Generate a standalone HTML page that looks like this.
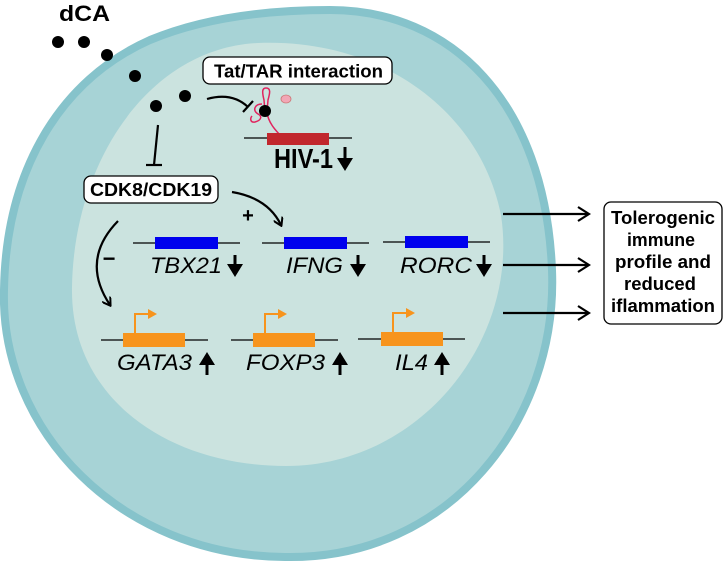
<!DOCTYPE html>
<html><head><meta charset="utf-8"><style>
html,body{margin:0;padding:0;background:#fff;}
svg{display:block;}
text{font-family:"Liberation Sans",sans-serif;}
</style></head><body>
<svg width="724" height="563" viewBox="0 0 724 563" xmlns="http://www.w3.org/2000/svg">
<defs>
<marker id="ah" markerWidth="10" markerHeight="10" refX="8" refY="5" orient="auto" markerUnits="userSpaceOnUse">
<path d="M1,0 L9,5 L1,10" fill="none" stroke="#000" stroke-width="2"/></marker>
<marker id="ah2" markerWidth="16" markerHeight="16" refX="13" refY="8" orient="auto" markerUnits="userSpaceOnUse">
<path d="M3,1 L14,8 L3,15" fill="none" stroke="#000" stroke-width="2.2"/></marker>
</defs>
<path d="M330,10 C450,10 545,100 552,270 C558,420 450,560 285,557 C120,556 0,430 4,290 C6,170 60,80 150,40 C210,15 280,10 330,10 Z" fill="#a7d3d6" stroke="#86c3cb" stroke-width="8"/>
<path d="M258,43 C380,38 480,110 501,215 C520,340 420,466 286,466 C170,466 70,400 72,287 C74,160 150,48 258,43 Z" fill="#cbe3df"/>
<text x="59" y="21" font-size="22" font-weight="bold" textLength="51" lengthAdjust="spacingAndGlyphs">dCA</text>
<g fill="#000">
<circle cx="58" cy="42" r="6"/><circle cx="84" cy="42" r="6"/><circle cx="107" cy="55" r="6"/>
<circle cx="135" cy="76" r="6"/><circle cx="156" cy="106" r="6"/><circle cx="185" cy="96" r="6"/>
</g>
<rect x="203" y="57" width="189" height="27" rx="7" fill="#fff" stroke="#000" stroke-width="1.3"/>
<text x="214" y="77.5" font-size="18" font-weight="bold" textLength="169" lengthAdjust="spacingAndGlyphs">Tat/TAR interaction</text>
<path d="M207,99 Q232,92 248,107" fill="none" stroke="#000" stroke-width="2.2"/>
<line x1="243" y1="112" x2="253" y2="101" stroke="#000" stroke-width="2.2"/>
<path d="M265,112 L264,100 C262,92 262,88 266,88 C271,88 270,93 268,100 L267,112 C268,122 275,130 282,137" fill="none" stroke="#e0245e" stroke-width="1.5"/>
<path d="M262,104 C255,104 252,110 258,114 C262,116 262,120 255,122 C250,123 250,118 252,116" fill="none" stroke="#e0245e" stroke-width="1.5"/>
<ellipse cx="286" cy="99" rx="5" ry="4" fill="#f2a7b6" stroke="#c77" stroke-width="0.8"/>
<circle cx="265" cy="111" r="6" fill="#000"/>
<line x1="244" y1="138" x2="352" y2="138" stroke="#000" stroke-width="1.3"/>
<rect x="267" y="133" width="62" height="12" fill="#c1272d"/>
<text x="274" y="168" font-size="28" font-weight="bold" textLength="59" lengthAdjust="spacingAndGlyphs">HIV-1</text>
<path d="M345,147 L345,162" stroke="#000" stroke-width="3"/><path d="M337,158 L353,158 L345,171 Z" fill="#000"/>
<path d="M158,125 L154,165" fill="none" stroke="#000" stroke-width="2.2"/>
<line x1="146" y1="165" x2="162" y2="165" stroke="#000" stroke-width="2.2"/>
<rect x="84" y="176" width="134" height="27" rx="7" fill="#fff" stroke="#000" stroke-width="1.3"/>
<text x="90" y="196" font-size="18" font-weight="bold" textLength="122" lengthAdjust="spacingAndGlyphs">CDK8/CDK19</text>
<path d="M232,192 Q268,198 281,225" fill="none" stroke="#000" stroke-width="2.2" marker-end="url(#ah)"/>
<text x="248" y="222" font-size="20" font-weight="bold" text-anchor="middle">+</text>
<path d="M118,221 Q80,260 110,305" fill="none" stroke="#000" stroke-width="2.2" marker-end="url(#ah)"/>
<text x="109" y="266" font-size="22" font-weight="bold" text-anchor="middle">−</text>
<g stroke="#000" stroke-width="1.3">
<line x1="133" y1="243" x2="240" y2="243"/><line x1="262" y1="243" x2="369" y2="243"/><line x1="383" y1="242" x2="490" y2="242"/>
<line x1="101" y1="340" x2="208" y2="340"/><line x1="231" y1="340" x2="338" y2="340"/><line x1="358" y1="339" x2="465" y2="339"/>
</g>
<g fill="#0000ee">
<rect x="155" y="237" width="63" height="12"/><rect x="284" y="237" width="63" height="12"/><rect x="405" y="236" width="63" height="12"/>
</g>
<g font-size="22" font-style="italic">
<text x="150" y="273" textLength="72" lengthAdjust="spacingAndGlyphs">TBX21</text>
<text x="286" y="273" textLength="57" lengthAdjust="spacingAndGlyphs">IFNG</text>
<text x="400" y="273" textLength="72" lengthAdjust="spacingAndGlyphs">RORC</text>
<text x="117" y="370" textLength="75" lengthAdjust="spacingAndGlyphs">GATA3</text>
<text x="246" y="370" textLength="79" lengthAdjust="spacingAndGlyphs">FOXP3</text>
<text x="395" y="370" textLength="33" lengthAdjust="spacingAndGlyphs">IL4</text>
</g>
<g fill="#000" stroke="#000">
<path d="M235,255 L235,268" stroke-width="3"/><path d="M227,264 L243,264 L235,277 Z" stroke="none"/>
<path d="M358,255 L358,268" stroke-width="3"/><path d="M350,264 L366,264 L358,277 Z" stroke="none"/>
<path d="M484,255 L484,268" stroke-width="3"/><path d="M476,264 L492,264 L484,277 Z" stroke="none"/>
<path d="M207,363 L207,375" stroke-width="3"/><path d="M199,365 L215,365 L207,352 Z" stroke="none"/>
<path d="M340,363 L340,375" stroke-width="3"/><path d="M332,365 L348,365 L340,352 Z" stroke="none"/>
<path d="M442,363 L442,375" stroke-width="3"/><path d="M434,365 L450,365 L442,352 Z" stroke="none"/>
</g>
<g fill="#f7941d">
<rect x="123" y="333" width="62" height="14"/><rect x="253" y="333" width="62" height="14"/><rect x="381" y="332" width="62" height="14"/>
</g>
<g stroke="#f7941d" stroke-width="2" fill="none">
<path d="M135,333 L135,314 L149,314"/><path d="M265,333 L265,314 L279,314"/><path d="M393,332 L393,313 L407,313"/>
</g>
<g fill="#f7941d">
<path d="M148,309 L157,314 L148,319 Z"/><path d="M278,309 L287,314 L278,319 Z"/><path d="M406,308 L415,313 L406,318 Z"/>
</g>
<g stroke="#000" stroke-width="2.2" fill="none">
<line x1="503" y1="214" x2="588" y2="214" marker-end="url(#ah2)"/>
<line x1="503" y1="265" x2="588" y2="265" marker-end="url(#ah2)"/>
<line x1="503" y1="313" x2="588" y2="313" marker-end="url(#ah2)"/>
</g>
<rect x="604" y="202" width="118" height="122" rx="7" fill="#fff" stroke="#000" stroke-width="1.3"/>
<g font-size="18" font-weight="bold" text-anchor="middle">
<text x="663" y="224" textLength="104" lengthAdjust="spacingAndGlyphs">Tolerogenic</text>
<text x="661" y="246" textLength="68" lengthAdjust="spacingAndGlyphs">immune</text>
<text x="663" y="268" textLength="96" lengthAdjust="spacingAndGlyphs">profile and</text>
<text x="660" y="290" textLength="72" lengthAdjust="spacingAndGlyphs">reduced</text>
<text x="663" y="312" textLength="104" lengthAdjust="spacingAndGlyphs">iflammation</text>
</g>
</svg>
</body></html>
